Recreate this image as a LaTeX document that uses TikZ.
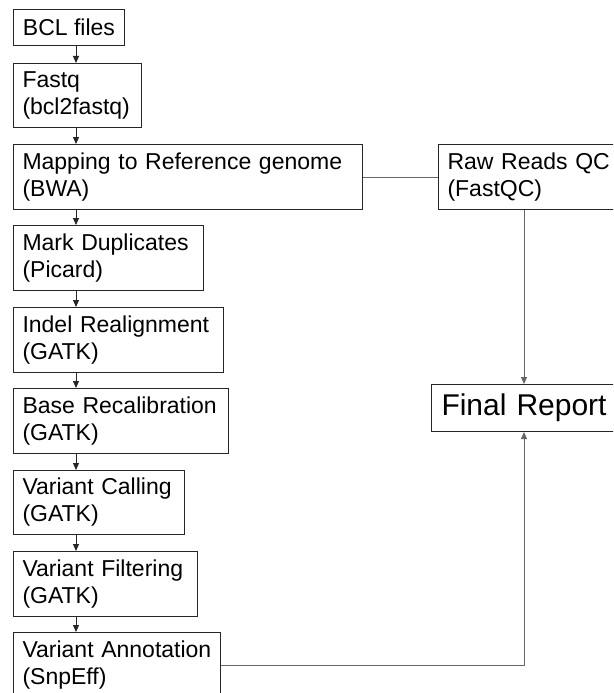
\documentclass[tikz,border=0pt]{standalone}
\usepackage{fontspec}
\setmainfont{Liberation Sans}
\usetikzlibrary{arrows.meta}
\tikzset{
  stage/.style={draw=black!85, line width=1pt, anchor=north west, align=left,
    inner xsep=9pt, inner ysep=0pt, font=\fontsize{23}{27}\selectfont},
  flow/.style={draw=black!85, line width=0.9pt, -{Triangle[width=6pt,length=7pt]}},
  link/.style={draw=black!60, line width=1pt}
}
\begin{document}
\begin{tikzpicture}[x=1pt,y=-1pt]
\useasboundingbox (0,0) rectangle (613,693);
\clip (0,0) rectangle (613,693);
\node[stage, minimum width=111pt, minimum height=36pt] (bcl) at (13,9) {BCL files};
\node[stage, text width=110pt, minimum height=64pt] (fq) at (13,63) {Fastq\\(bcl2fastq)};
\node[stage, text width=331pt, minimum height=65pt] (map) at (13,144) {Mapping to Reference genome\\(BWA)};
\node[stage, text width=172pt, minimum height=65pt] (dup) at (13,225) {Mark Duplicates\\(Picard)};
\node[stage, text width=192pt, minimum height=65pt] (indel) at (13,307) {Indel Realignment\\(GATK)};
\node[stage, text width=197pt, minimum height=65pt] (bqsr) at (13,388) {Base Recalibration\\(GATK)};
\node[stage, text width=153pt, minimum height=64pt] (call) at (13,470) {Variant Calling\\(GATK)};
\node[stage, text width=166pt, minimum height=65pt] (filt) at (13,551) {Variant Filtering\\(GATK)};
\node[stage, text width=189pt, minimum height=65pt] (annot) at (13,632) {Variant Annotation\\(SnpEff)};
\node[stage, text width=169pt, minimum height=65pt] (qc) at (438,144) {Raw Reads QC\\(FastQC)};
\node[stage, text width=178pt, minimum height=47pt, inner xsep=10pt,
  font=\fontsize{30}{36}\selectfont] (rep) at (431,384) {Final Report};
% main pipeline
\foreach \a/\b in {bcl/fq, fq/map, map/dup, dup/indel, indel/bqsr, bqsr/call, call/filt, filt/annot}
  \draw[flow] ([xshift=63pt]\a.south west) -- ([xshift=63pt]\b.north west);
% QC branch and report
\draw[link] (map.east) -- (qc.west);
\draw[link, -{Triangle[width=6pt,length=7pt]}] ([xshift=86pt]qc.south west) -- ([xshift=93pt]rep.north west);
\draw[link, -{Triangle[width=6pt,length=7pt]}] (annot.east) -| ([xshift=93pt]rep.south west);
\end{tikzpicture}
\end{document}
